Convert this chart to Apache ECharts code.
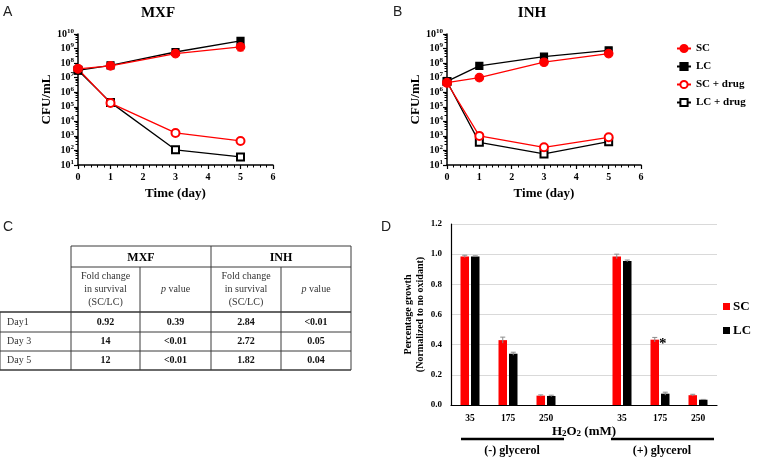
<!DOCTYPE html>
<html><head><meta charset="utf-8">
<script src="https://cdn.jsdelivr.net/npm/echarts@6/dist/echarts.min.js"></script>
<style>html,body{margin:0;padding:0;background:#fff}#c{width:757px;height:458px}</style>
</head><body><div id="c"></div><script>
// ---------- data ----------
const days = [0, 1, 3, 5];
const mxfSC = [4e7, 6.5e7, 4.5e8, 1.3e9];
const mxfLC = [3.2e7, 7e7, 5.8e8, 3.4e9];
const mxfSCdrug = [4e7, 1.8e5, 1.6e3, 450];
const mxfLCdrug = [3.2e7, 2e5, 110, 36];
const inhSC = [4.5e6, 1e7, 1.15e8, 4.5e8];
const inhLC = [5.5e6, 6.5e7, 2.8e8, 7.5e8];
const inhSCdrug = [4.5e6, 1000, 165, 800];
const inhLCdrug = [5.5e6, 360, 58, 400];
const mxfSCerr = [[5, 7e8, 2.3e9]];
const mxfLCdrugErr = [[5, 24, 44]];
const lineNames = ['SC', 'LC', 'SC + drug', 'LC + drug'];

const h2o2Cats = ['35', '175', '250', '', '35', '175', '250'];
const growthSC = [0.985, 0.43, 0.062, null, 0.985, 0.433, 0.065];
const growthLC = [0.985, 0.34, 0.06, null, 0.955, 0.075, 0.035];
const errSC = [0.008, 0.02, 0.005, null, 0.015, 0.015, 0.006];
const errLC = [0.004, 0.01, 0.005, null, 0.006, 0.01, 0.002];

const drugHeads = ['MXF', 'INH'];
const subHeads = ['Fold change\nin survival\n(SC/LC)', 'p value'];
const rowLabels = ['Day1', 'Day 3', 'Day 5'];
const mxfFold = ['0.92', '14', '12'];
const mxfP = ['0.39', '<0.01', '<0.01'];
const inhFold = ['2.84', '2.72', '1.82'];
const inhP = ['<0.01', '0.05', '0.04'];

// ---------- helpers ----------
const SERIF = "'Liberation Serif','Times New Roman',serif";
const SANS = "'Liberation Sans',Arial,sans-serif";
const RED = '#ff0000';
const zip = (xs, ys) => xs.map((x, i) => [x, ys[i]]);

function logAxis(gi) {
  return {
    type: 'log', logBase: 10, min: 10, max: 1e10, gridIndex: gi, splitNumber: 9,
    name: 'CFU/mL', nameLocation: 'middle', nameGap: 24,
    nameTextStyle: { fontFamily: SERIF, fontWeight: 'bold', fontSize: 13, color: '#000' },
    axisLine: { show: true, lineStyle: { color: '#000', width: 1.5 } },
    axisTick: { show: true, length: 4, lineStyle: { color: '#000', width: 1.2 } },
    minorTick: { show: true, splitNumber: 5, length: 2.5, lineStyle: { color: '#000', width: 1 } },
    splitLine: { show: false },
    axisLabel: {
      margin: 4, color: '#000',
      formatter: v => '{b|10}{s|' + Math.round(Math.log10(v)) + '}',
      rich: {
        b: { fontFamily: SERIF, fontWeight: 'bold', fontSize: 10, color: '#000' },
        s: { fontFamily: SERIF, fontWeight: 'bold', fontSize: 7, color: '#000', padding: [0, 0, 6, 0] }
      }
    }
  };
}
function timeAxis(gi) {
  return {
    type: 'value', min: 0, max: 6, interval: 1, gridIndex: gi,
    name: 'Time (day)', nameLocation: 'middle', nameGap: 22,
    nameTextStyle: { fontFamily: SERIF, fontWeight: 'bold', fontSize: 13, color: '#000' },
    axisLine: { show: true, lineStyle: { color: '#000', width: 1.5 } },
    axisTick: { show: true, length: 4, lineStyle: { color: '#000', width: 1.2 } },
    minorTick: { show: true, splitNumber: 5, length: 2.5, lineStyle: { color: '#000', width: 1 } },
    splitLine: { show: false },
    axisLabel: { margin: 7, fontFamily: SERIF, fontWeight: 'bold', fontSize: 10, color: '#000' }
  };
}
function lineSeries(name, gi, vals, color, symbol, size, z) {
  return {
    type: 'line', name, xAxisIndex: gi, yAxisIndex: gi, data: zip(days, vals),
    symbol, symbolSize: size, z,
    lineStyle: { color, width: 1.3 }, itemStyle: { color, borderColor: color, borderWidth: 1.2 }
  };
}
function errSeries(gi, data, color) {
  return {
    type: 'custom', xAxisIndex: gi, yAxisIndex: gi, data, z: 1, silent: true,
    renderItem: (params, api) => {
      const lo = api.coord([api.value(0), api.value(1)]);
      const hi = api.coord([api.value(0), api.value(2)]);
      const st = { stroke: color, lineWidth: 1.2 };
      return { type: 'group', children: [
        { type: 'line', shape: { x1: lo[0], y1: lo[1], x2: hi[0], y2: hi[1] }, style: st },
        { type: 'line', shape: { x1: lo[0] - 3, y1: lo[1], x2: lo[0] + 3, y2: lo[1] }, style: st },
        { type: 'line', shape: { x1: hi[0] - 3, y1: hi[1], x2: hi[0] + 3, y2: hi[1] }, style: st }
      ]};
    }
  };
}
const BARW = 8.5, BARGAP = 2;
function barErr(vals, errs, side) {
  return {
    type: 'custom', xAxisIndex: 2, yAxisIndex: 2, z: 3, silent: true,
    data: vals.map((v, i) => v == null ? [i, null, null] : [i, v, errs[i]]),
    renderItem: (params, api) => {
      const v = api.value(1), e = api.value(2);
      if (v == null || isNaN(v)) return null;
      const c = api.coord([api.value(0), v]);
      const x = c[0] + side * (BARW + BARGAP) / 2;
      const top = api.coord([api.value(0), v + e])[1];
      const bot = api.coord([api.value(0), v - e])[1];
      const st = { stroke: '#8c8c8c', lineWidth: 1 };
      return { type: 'group', children: [
        { type: 'line', shape: { x1: x, y1: bot, x2: x, y2: top }, style: st },
        { type: 'line', shape: { x1: x - 2.5, y1: top, x2: x + 2.5, y2: top }, style: st }
      ]};
    }
  };
}

// ---------- table (panel C) ----------
const colX = [0, 71, 140, 211, 281, 351];
const rowY = [246, 267, 312, 332, 351, 370];
const tbl = [];
const LC_ = '#3a3a3a';
function hline(x1, x2, y, w, c) { tbl.push({ type: 'line', shape: { x1, y1: y, x2, y2: y }, style: { stroke: c || LC_, lineWidth: w || 1 } }); }
function vline(x, y1, y2, w) { tbl.push({ type: 'line', shape: { x1: x, y1, x2: x, y2 }, style: { stroke: LC_, lineWidth: w || 1 } }); }
function ctext(text, x, y, style) {
  tbl.push({ type: 'text', x, y, style: Object.assign({ text, align: 'center', verticalAlign: 'middle', fontFamily: SERIF, fontSize: 10, fill: '#222' }, style) });
}
hline(colX[1], colX[5], rowY[0]); hline(colX[1], colX[5], rowY[1]);
hline(colX[0], colX[5], rowY[2], 2.2, '#666'); hline(colX[0], colX[5], rowY[3]); hline(colX[0], colX[5], rowY[4]); hline(colX[0], colX[5], rowY[5], 1.5);
[1, 3, 5].forEach(i => vline(colX[i], rowY[0], rowY[5]));
[2, 4].forEach(i => vline(colX[i], rowY[1], rowY[5]));
vline(colX[0], rowY[2], rowY[5]);
drugHeads.forEach((h, k) => ctext(h, (colX[1 + 2 * k] + colX[3 + 2 * k]) / 2, (rowY[0] + rowY[1]) / 2 + 1, { fontWeight: 'bold', fontSize: 12, fill: '#000' }));
[0, 1].forEach(k => {
  const c0 = 1 + 2 * k;
  ctext(subHeads[0], (colX[c0] + colX[c0 + 1]) / 2, (rowY[1] + rowY[2]) / 2, { lineHeight: 13, fill: '#333' });
  tbl.push({ type: 'text', x: (colX[c0 + 1] + colX[c0 + 2]) / 2, y: (rowY[1] + rowY[2]) / 2, style: {
    text: '{i|p}{n| value}', align: 'center', verticalAlign: 'middle',
    rich: { i: { fontFamily: SERIF, fontStyle: 'italic', fontSize: 10, fill: '#333' }, n: { fontFamily: SERIF, fontSize: 10, fill: '#333' } } } });
});
const cols = [mxfFold, mxfP, inhFold, inhP];
rowLabels.forEach((r, j) => {
  const yc = (rowY[2 + j] + rowY[3 + j]) / 2;
  tbl.push({ type: 'text', x: 7, y: yc, style: { text: r, align: 'left', verticalAlign: 'middle', fontFamily: SERIF, fontSize: 10, fill: '#333' } });
  cols.forEach((col, k) => ctext(col[j], (colX[1 + k] + colX[2 + k]) / 2, yc, { fontWeight: 'bold', fill: '#111' }));
});

// ---------- other graphics ----------
const labelStyle = (t) => ({ text: t, fontFamily: SANS, fontSize: 14, fill: '#222' });
const extra = [
  { type: 'text', x: 3, y: 5, style: labelStyle('A') },
  { type: 'text', x: 393, y: 5, style: labelStyle('B') },
  { type: 'text', x: 3, y: 220, style: labelStyle('C') },
  { type: 'text', x: 381, y: 220, style: labelStyle('D') },
  { type: 'text', x: 158, y: 13, style: { text: 'MXF', align: 'center', verticalAlign: 'middle', fontFamily: SERIF, fontWeight: 'bold', fontSize: 15, fill: '#000' } },
  { type: 'text', x: 532, y: 13, style: { text: 'INH', align: 'center', verticalAlign: 'middle', fontFamily: SERIF, fontWeight: 'bold', fontSize: 15, fill: '#000' } },
  { type: 'line', shape: { x1: 461, y1: 439, x2: 564, y2: 439 }, style: { stroke: '#000', lineWidth: 2.5 } },
  { type: 'line', shape: { x1: 611, y1: 439, x2: 714, y2: 439 }, style: { stroke: '#000', lineWidth: 2.5 } },
  { type: 'text', x: 512, y: 451, style: { text: '(-) glycerol', align: 'center', verticalAlign: 'middle', fontFamily: SERIF, fontWeight: 'bold', fontSize: 12, fill: '#000' } },
  { type: 'text', x: 662, y: 451, style: { text: '(+) glycerol', align: 'center', verticalAlign: 'middle', fontFamily: SERIF, fontWeight: 'bold', fontSize: 12, fill: '#000' } }
];

// ---------- option ----------
const chart = echarts.init(document.getElementById('c'), null, { renderer: 'canvas' });
const option = {
  animation: false,
  backgroundColor: '#fff',
  grid: [
    { left: 78, top: 34, width: 195, height: 131 },
    { left: 447, top: 34, width: 194, height: 131 },
    { left: 451, top: 224, width: 266, height: 181 }
  ],
  xAxis: [
    timeAxis(0), timeAxis(1),
    {
      type: 'category', data: h2o2Cats, gridIndex: 2,
      name: '{a|H}{s|2}{a|O}{s|2}{a| (mM)}', nameLocation: 'middle', nameGap: 17,
      nameTextStyle: { rich: {
        a: { fontFamily: SERIF, fontWeight: 'bold', fontSize: 13, color: '#000' },
        s: { fontFamily: SERIF, fontWeight: 'bold', fontSize: 9, color: '#000', padding: [5, 0, 0, 0] } } },
      axisLine: { show: true, lineStyle: { color: '#000', width: 1.2 } },
      axisTick: { show: false },
      axisLabel: { interval: 0, margin: 9, fontFamily: SERIF, fontWeight: 'bold', fontSize: 9.5, color: '#000' }
    }
  ],
  yAxis: [
    logAxis(0), logAxis(1),
    {
      type: 'value', min: 0, max: 1.2, interval: 0.2, gridIndex: 2,
      name: 'Percentage growth\n(Normalized to no oxidant)', nameLocation: 'middle', nameGap: 21,
      nameTextStyle: { fontFamily: SERIF, fontWeight: 'bold', fontSize: 10, lineHeight: 12, color: '#000' },
      axisLine: { show: true, lineStyle: { color: '#000', width: 1.2 } },
      axisTick: { show: false },
      splitLine: { show: true, lineStyle: { color: '#d9d9d9', width: 1 } },
      axisLabel: { margin: 9, fontFamily: SERIF, fontWeight: 'bold', fontSize: 9, color: '#000', formatter: v => v.toFixed(1) }
    }
  ],
  legend: [
    {
      data: lineNames, orient: 'vertical', left: 671, top: 38, itemWidth: 14, itemHeight: 9, itemGap: 7,
      textStyle: { fontFamily: SERIF, fontWeight: 'bold', fontSize: 11, color: '#000' }, selectedMode: false
    },
    {
      data: ['SC_bar', 'LC_bar'], orient: 'vertical', left: 718, top: 295, itemWidth: 7, itemHeight: 7, itemGap: 11,
      icon: 'rect', formatter: n => n.replace('_bar', ''),
      textStyle: { fontFamily: SERIF, fontWeight: 'bold', fontSize: 13, color: '#000', padding: [0, 0, 0, -2] }, selectedMode: false
    }
  ],
  series: [
    errSeries(0, mxfSCerr, RED),
    errSeries(0, mxfLCdrugErr, '#000'),
    lineSeries('LC + drug', 0, mxfLCdrug, '#000', 'emptyRect', 7, 2),
    lineSeries('SC + drug', 0, mxfSCdrug, RED, 'emptyCircle', 8, 3),
    lineSeries('LC', 0, mxfLC, '#000', 'rect', 7, 4),
    lineSeries('SC', 0, mxfSC, RED, 'circle', 8.5, 5),
    lineSeries('LC + drug', 1, inhLCdrug, '#000', 'emptyRect', 7, 2),
    lineSeries('SC + drug', 1, inhSCdrug, RED, 'emptyCircle', 8, 3),
    lineSeries('LC', 1, inhLC, '#000', 'rect', 7, 4),
    lineSeries('SC', 1, inhSC, RED, 'circle', 8.5, 5),
    {
      type: 'bar', name: 'SC_bar', xAxisIndex: 2, yAxisIndex: 2, barWidth: BARW, barGap: (BARGAP / BARW * 100) + '%',
      itemStyle: { color: RED },
      data: growthSC.map((v, i) => i === 5 ? { value: v, label: { show: true, position: 'top', formatter: '*', offset: [8, 17], fontFamily: SERIF, fontWeight: 'bold', fontSize: 15, color: '#000' } } : v)
    },
    {
      type: 'bar', name: 'LC_bar', xAxisIndex: 2, yAxisIndex: 2, barWidth: BARW,
      itemStyle: { color: '#000' }, data: growthLC
    },
    barErr(growthSC, errSC, -1),
    barErr(growthLC, errLC, 1)
  ],
  graphic: tbl.concat(extra)
};
chart.setOption(option);
</script></body></html>
